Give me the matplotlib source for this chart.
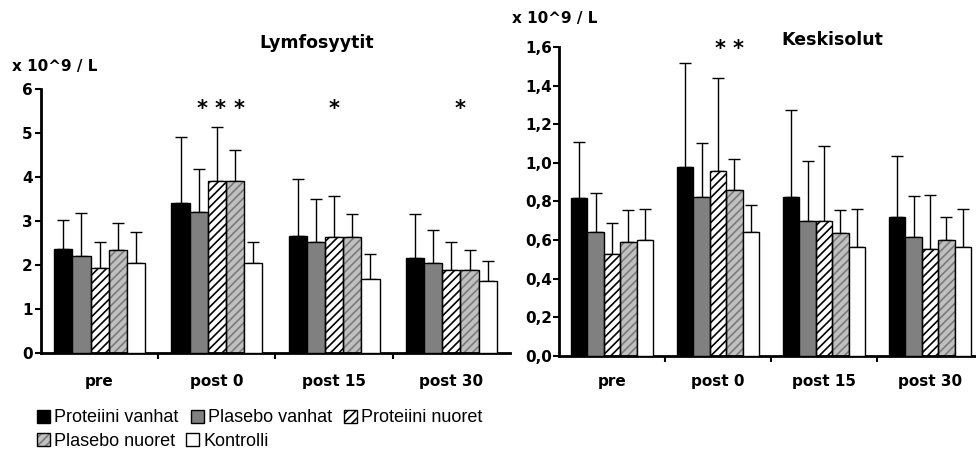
import numpy as np
import matplotlib
matplotlib.use("Agg")
from matplotlib import pyplot as plt
from matplotlib.patches import Patch

# data
groups = ["pre", "post 0", "post 15", "post 30"]
series = ["Proteiini vanhat", "Plasebo vanhat", "Proteiini nuoret", "Plasebo nuoret", "Kontrolli"]

# Lymfosyytit, means and SD (upper error only)
lymf_pv = [2.37, 3.40, 2.65, 2.17]
lymf_plv = [2.20, 3.20, 2.52, 2.05]
lymf_pn = [1.93, 3.90, 2.64, 1.89]
lymf_pln = [2.33, 3.90, 2.64, 1.89]
lymf_k = [2.05, 2.05, 1.69, 1.64]
lymf_pv_sd = [0.66, 1.52, 1.30, 0.99]
lymf_plv_sd = [0.99, 0.99, 0.99, 0.75]
lymf_pn_sd = [0.59, 1.23, 0.92, 0.63]
lymf_pln_sd = [0.63, 0.72, 0.51, 0.44]
lymf_k_sd = [0.71, 0.47, 0.55, 0.45]

# Keskisolut
kesk_pv = [0.816, 0.977, 0.825, 0.718]
kesk_plv = [0.643, 0.825, 0.699, 0.616]
kesk_pn = [0.526, 0.960, 0.699, 0.554]
kesk_pln = [0.588, 0.860, 0.635, 0.598]
kesk_k = [0.600, 0.643, 0.562, 0.562]
kesk_pv_sd = [0.29, 0.54, 0.45, 0.32]
kesk_plv_sd = [0.20, 0.28, 0.31, 0.21]
kesk_pn_sd = [0.16, 0.48, 0.39, 0.28]
kesk_pln_sd = [0.17, 0.16, 0.12, 0.12]
kesk_k_sd = [0.16, 0.14, 0.20, 0.20]

# significance stars: (group index, position in bar units)
lymf_stars = [(1, 1.2), (1, 2.2), (1, 3.2), (2, 2.0), (3, 2.5)]
lymf_star_y = 5.55
kesk_stars = [(1, 2.1), (1, 3.2)]
kesk_star_y = 1.59

lymf_yticks = [0, 1, 2, 3, 4, 5, 6]
lymf_yticklabels = ["0", "1", "2", "3", "4", "5", "6"]
kesk_yticks = [0.0, 0.2, 0.4, 0.6, 0.8, 1.0, 1.2, 1.4, 1.6]
kesk_yticklabels = ["0,0", "0,2", "0,4", "0,6", "0,8", "1,0", "1,2", "1,4", "1,6"]

# styles
faces = ["black", "#808080", "white", "#c0c0c0", "white"]
hatches = [None, None, "////", "////", None]
hatch_cols = ["black", "black", "black", "#7a7a7a", "black"]

plt.rcParams["hatch.linewidth"] = 1.2
BOLD = dict(family="DejaVu Sans", fontweight="bold")

W = 0.155


def draw_panel(ax, means, sds, yticks, yticklabels, ymax, stars, star_y, labpad, xpad):
    x = np.arange(len(groups))
    for i in range(len(series)):
        xi = x + (i - 2) * W
        if hatches[i]:
            ax.bar(xi, means[i], W, color=faces[i], hatch=hatches[i],
                   edgecolor=hatch_cols[i], linewidth=0, zorder=2)
            ax.bar(xi, means[i], W, fill=False, edgecolor="black",
                   linewidth=1, zorder=3)
        else:
            ax.bar(xi, means[i], W, color=faces[i], edgecolor="black",
                   linewidth=1, zorder=3)
        ax.errorbar(xi, means[i], yerr=[np.zeros(len(groups)), sds[i]],
                    fmt="none", ecolor="black", elinewidth=1, capsize=4.3,
                    capthick=1, zorder=1)
    for g, b in stars:
        ax.text(g + (b - 2) * W, star_y, "*", ha="center", va="center",
                fontsize=15, **BOLD)

    ax.set_xlim(-0.5, 3.5)
    ax.set_ylim(0, ymax)
    ax.spines["top"].set_visible(False)
    ax.spines["right"].set_visible(False)
    ax.spines["left"].set_linewidth(2)
    ax.spines["bottom"].set_linewidth(2)

    ax.set_xticks(x)
    ax.set_xticklabels(groups, fontsize=11, **BOLD)
    ax.set_xticks([0.5, 1.5, 2.5], minor=True)
    ax.tick_params(axis="x", which="major", length=0, pad=xpad)
    ax.tick_params(axis="x", which="minor", length=4, width=1.5, direction="out")

    ax.set_yticks(yticks)
    ax.set_yticklabels(yticklabels, fontsize=11, **BOLD)
    ax.tick_params(axis="y", length=4, width=1.5, pad=labpad)


fig = plt.figure(figsize=(9.76, 4.66), dpi=100)

ax1 = fig.add_axes([0.042, 0.2425, 0.4805, 0.5665])
draw_panel(ax1,
           [lymf_pv, lymf_plv, lymf_pn, lymf_pln, lymf_k],
           [lymf_pv_sd, lymf_plv_sd, lymf_pn_sd, lymf_pln_sd, lymf_k_sd],
           lymf_yticks, lymf_yticklabels, 6, lymf_stars, lymf_star_y, 2, 15)

ax2 = fig.add_axes([0.5727, 0.2361, 0.4344, 0.6631])
draw_panel(ax2,
           [kesk_pv, kesk_plv, kesk_pn, kesk_pln, kesk_k],
           [kesk_pv_sd, kesk_plv_sd, kesk_pn_sd, kesk_pln_sd, kesk_k_sd],
           kesk_yticks, kesk_yticklabels, 1.6, kesk_stars, kesk_star_y, 1, 13)

# titles and unit labels
fig.text(317 / 976, 1 - 43 / 466, "Lymfosyytit", ha="center", va="center",
         fontsize=12.5, **BOLD)
fig.text(832 / 976, 1 - 40 / 466, "Keskisolut", ha="center", va="center",
         fontsize=12.5, **BOLD)
fig.text(12 / 976, 1 - 67 / 466, "x 10^9 / L", ha="left", va="center",
         fontsize=11, **BOLD)
fig.text(512 / 976, 1 - 19 / 466, "x 10^9 / L", ha="left", va="center",
         fontsize=11, **BOLD)

# legend entries placed one by one (Excel-like, columns not aligned)
leg_x = [37, 191, 344, 37, 186]
leg_y = [418, 418, 418, 441, 441]
for i in range(len(series)):
    if hatches[i]:
        h = (Patch(facecolor=faces[i], hatch=hatches[i], edgecolor=hatch_cols[i], linewidth=0),
             Patch(fill=False, edgecolor="black", linewidth=1))
    else:
        h = Patch(facecolor=faces[i], edgecolor="black", linewidth=1)
    fig.legend([h], [series[i]], loc="center left",
               bbox_to_anchor=(leg_x[i] / 976, 1 - leg_y[i] / 466),
               frameon=False, prop=dict(family="Liberation Sans", size=13),
               handlelength=0.7, handleheight=0.7, handletextpad=0.25,
               borderpad=0, borderaxespad=0)

fig.savefig("out.png", dpi=100)
